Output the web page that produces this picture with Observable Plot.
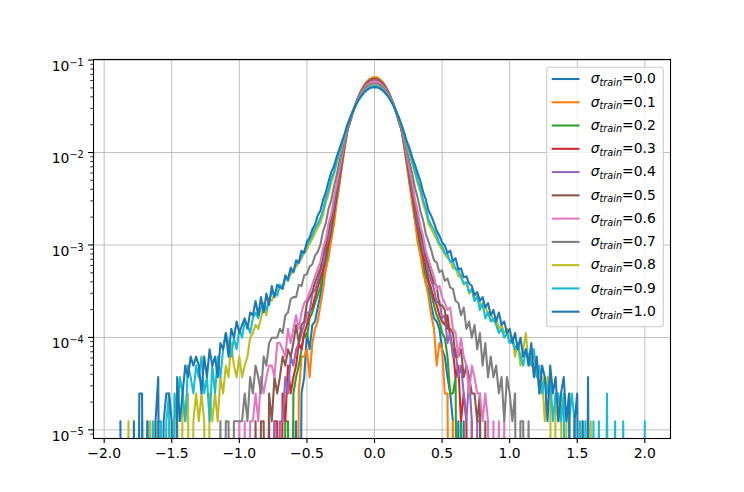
<!DOCTYPE html>
<html>
<head>
<meta charset="utf-8">
<script src="https://cdn.jsdelivr.net/npm/d3@7"></script>
<script src="https://cdn.jsdelivr.net/npm/@observablehq/plot@0.6"></script>
<style>
html, body { margin: 0; padding: 0; background: #fff; }
#chart { width: 744px; height: 492px; }
</style>
</head>
<body>
<div id="chart"></div>
<script>
// Histogram bin width and per-count probability (1 count = 1.24e-5)
const step = 0.02;
const unit = 1.24e-5;

const labels = ["0.0","0.1","0.2","0.3","0.4","0.5","0.6","0.7","0.8","0.9","1.0"];
const colors = ["#1f77b4","#ff7f0e","#2ca02c","#d62728","#9467bd","#8c564b","#e377c2","#7f7f7f","#bcbd22","#17becf","#1f77b4"];
// first bin x of each series
const starts = [-0.60, -0.62, -0.68, -0.80, -0.76, -0.90, -1.02, -1.16, -1.84, -1.74, -1.88];

// counts per bin (x = start + i*step)
const s00 = [
  0,1,0,2,3,9,6,11,12,17,
  23,36,44,70,93,153,236,383,596,950,
  1405,1760,2190,2700,3195,3728,4188,4620,4920,5140,
  5198,5150,4935,4605,4200,3712,3210,2685,2204,1748,
  1418,936,610,371,245,147,99,64,48,31,
  26,18,13,12,10,6,5,3,2,1,
  0,1,0,1,0];
const s01 = [
  0,1,0,2,5,5,6,3,7,10,
  12,18,27,45,58,92,134,231,352,590,
  915,1410,1738,2205,2690,3230,3735,4240,4650,4990,
  5180,5262,5240,5005,4680,4225,3760,3205,2710,2180,
  1755,1390,935,572,365,220,146,84,63,40,
  31,22,14,10,4,7,6,2,2,0,
  1,0];
const s02 = [
  0,1,1,0,2,3,4,6,9,8,
  13,15,19,23,28,44,55,83,110,178,
  264,418,632,982,1425,1780,2198,2690,3165,3675,
  4112,4525,4810,5015,5070,5020,4808,4530,4115,3660,
  3180,2672,2215,1765,1438,968,645,405,276,169,
  118,77,59,39,31,24,18,14,12,9,
  8,5,2,2,3,0,1,0];
const s03 = [
  0,1,0,1,1,0,2,1,4,2,
  3,4,7,6,9,11,15,17,22,28,
  36,43,66,85,128,181,291,425,664,985,
  1448,1775,2215,2670,3166,3635,4090,4465,4768,4942,
  5018,4960,4755,4480,4076,3650,3152,2684,2201,1788,
  1434,1000,651,437,280,190,120,91,60,48,
  33,27,21,18,14,12,11,14,8,6,
  3,4,1,2,1,0,1,0];
const s04 = [
  0,1,0,1,1,3,2,5,4,6,
  7,9,11,15,15,24,26,33,42,51,
  76,98,147,204,319,456,698,1012,1464,1788,
  2222,2661,3144,3595,4032,4390,4680,4846,4920,4862,
  4668,4404,4018,3610,3128,2677,2208,1802,1450,1027,
  684,470,307,214,138,105,70,56,39,33,
  27,19,20,13,14,7,9,5,6,3,
  4,2,1,3,1,0,1,1,0];
const s05 = [
  0,1,0,1,1,0,2,1,3,2,
  3,5,4,6,5,7,11,7,11,12,
  19,22,25,32,38,45,65,80,121,155,
  237,334,500,712,1053,1464,1815,2212,2668,3109,
  3573,3968,4340,4592,4777,4822,4785,4604,4326,3982,
  3559,3123,2654,2226,1801,1478,1038,727,486,346,
  226,164,112,87,59,48,38,31,29,18,
  18,16,10,10,9,5,5,6,3,4,
  3,2,2,1,2,0,1,0];
const s06 = [
  0,1,0,1,0,1,1,2,1,3,
  2,3,4,4,3,7,7,6,5,10,
  7,10,14,10,15,19,21,25,30,37,
  45,53,75,94,137,175,261,363,532,744,
  1079,1478,1827,2217,2662,3089,3538,3919,4277,4518,
  4697,4740,4702,4531,4263,3933,3524,3103,2648,2231,
  1813,1493,1064,758,518,375,250,184,128,100,
  69,56,45,37,27,29,22,19,16,17,
  10,9,5,8,5,4,2,4,3,2,
  2,1,2,1,0,1,0,1,0,1,
  0];
const s07 = [
  0,1,0,1,1,0,1,1,1,1,
  2,1,3,2,4,3,2,5,4,7,
  8,8,8,10,9,14,15,21,22,22,
  30,29,38,39,47,50,62,68,82,114,
  139,198,247,346,456,636,838,1156,1519,1866,
  2230,2643,3031,3442,3779,4103,4312,4474,4510,4480,
  4326,4088,3794,3427,3046,2628,2245,1851,1534,1140,
  855,620,471,333,259,187,148,106,87,71,
  55,52,41,43,33,35,28,27,20,19,
  14,17,10,12,8,11,6,9,4,7,
  3,5,3,4,2,3,1,3,2,1,
  2,0,1,1,0,1,0];
const s08 = [
  0,1,0,0,0,0,0,0,0,1,
  0,1,0,1,0,0,1,0,1,2,
  0,2,1,2,0,1,2,1,2,1,
  0,2,1,2,1,3,2,4,3,7,
  4,3,5,3,4,5,8,9,11,10,
  13,18,14,21,20,24,23,30,27,35,
  35,39,43,47,52,58,66,72,83,94,
  109,124,142,174,233,288,382,465,611,766,
  979,1235,1584,1894,2261,2606,2983,3317,3641,3895,
  4104,4216,4271,4240,4092,3909,3627,3331,2969,2620,
  2247,1908,1570,1249,965,780,598,477,370,299,
  223,182,136,121,105,93,80,72,64,58,
  55,45,46,37,38,30,32,24,27,20,
  23,19,17,18,14,15,12,13,10,11,
  9,10,7,8,5,7,4,6,9,4,
  5,3,4,2,3,1,3,2,0,2,
  1,2,0,1,2,0,1,0,0,1,
  0,0,1,0];
const s09 = [
  0,1,0,1,0,1,0,1,1,0,
  1,2,0,2,1,3,2,1,4,3,
  2,4,3,5,2,3,1,4,2,5,
  3,6,9,7,5,8,6,10,8,12,
  11,9,13,15,13,17,19,16,21,24,
  24,23,30,28,36,33,43,41,51,52,
  61,70,79,91,104,122,136,158,194,258,
  315,416,499,648,801,1009,1256,1595,1903,2264,
  2601,2969,3294,3609,3854,4057,4165,4218,4190,4046,
  3868,3595,3308,2955,2615,2250,1918,1580,1271,994,
  815,634,512,403,327,247,202,151,132,118,
  102,84,79,66,64,53,54,44,43,36,
  31,32,25,27,20,22,16,19,13,15,
  12,13,11,9,10,8,9,7,8,6,
  7,5,4,6,5,4,6,3,4,2,
  3,2,3,1,2,2,1,2,0,1,
  2,1,0,1,0,1,0,0,1,0,
  1,0,0,2,0,0,1,0,0,1,
  0,0,0,0,0,0,0,1];
const s10 = [
  1,0,0,0,0,1,0,2,2,0,
  1,0,0,1,3,0,1,2,2,1,
  0,3,1,2,4,3,5,4,5,4,
  2,5,3,6,4,5,3,7,6,9,
  5,10,8,12,9,11,13,10,15,14,
  20,14,22,15,24,18,29,22,30,28,
  27,38,34,46,41,55,52,70,66,88,
  97,119,134,168,190,250,300,392,495,572,
  725,878,1070,1300,1617,1922,2270,2590,2943,3248,
  3545,3776,3966,4065,4112,4085,3955,3790,3532,3262,
  2928,2605,2256,1937,1602,1315,1056,890,712,590,
  480,392,301,249,189,166,140,115,102,86,
  80,66,70,54,58,44,45,36,37,31,
  29,23,25,20,22,17,19,14,16,12,
  15,11,12,9,10,7,9,6,8,5,
  6,4,7,3,5,2,4,3,1,4,
  2,3,1,2,3,1,2,0,1,2,
  0,1,0,3,0];

const series = [s00,s01,s02,s03,s04,s05,s06,s07,s08,s09,s10];

const xTicks = [-2, -1.5, -1, -0.5, 0, 0.5, 1, 1.5, 2];
const yTicks = [1e-5, 1e-4, 1e-3, 1e-2, 1e-1];
const yMinor = [];
for (let e = -6; e <= -1; e++) for (let m = 2; m <= 9; m++) {
  const v = m * Math.pow(10, e);
  if (v > 8.07e-6 && v < 0.1014) yMinor.push(v);
}

// zero-count bins fall to the bottom (clipped), like a log axis with clipping
const rows = series.map((counts, j) =>
  counts.map((c, i) => ({
    x: +(starts[j] + i * step).toFixed(2),
    y: c > 0 ? c * unit : 1e-9
  }))
);

const gridStyle = {stroke: "#b0b0b0", strokeOpacity: 1, strokeWidth: 0.8};

const svg = Plot.plot({
  width: 744,
  height: 492,
  marginTop: 59,
  marginBottom: 54,
  marginLeft: 93,
  marginRight: 74,
  style: {fontFamily: "DejaVu Sans", fontSize: "13.9px", color: "black", background: "white", overflow: "visible"},
  x: {domain: [-2.079, 2.19], label: null},
  y: {type: "log", domain: [8.07e-6, 0.1014], label: null},
  marks: [
    Plot.gridX(xTicks, gridStyle),
    Plot.gridY(yTicks, gridStyle),
    ...rows.map((r, j) => Plot.line(r, {x: "x", y: "y", stroke: colors[j], strokeWidth: 2.08, clip: true, strokeLinejoin: "round"})),
    Plot.frame({stroke: "black", strokeWidth: 1.1}),
    Plot.axisX(xTicks, {tickSize: 4.9, tickPadding: 4.9, tickFormat: d3.format(".1f"), label: null, strokeWidth: 1.1}),
    Plot.axisY(yTicks, {tickSize: 4.9, tickPadding: 4.9, tickFormat: d => String(Math.round(Math.log10(d))).replace("-", "\u2212"), label: null, strokeWidth: 1.1}),
    Plot.axisY(yMinor, {tickSize: 2.8, tickFormat: () => "", label: null, strokeWidth: 0.8})
  ]
});

// superscript exponents on the log axis labels
d3.select(svg).selectAll('g[aria-label="y-axis tick label"] text').each(function() {
  const exp = this.textContent;
  if (!exp) return;
  const t = d3.select(this);
  t.text("").attr("dy", "0.46em");
  t.append("tspan").text("10");
  t.append("tspan").attr("dy", "-5.3").attr("font-size", "9.7px").text(exp);
});

// legend
const lg = d3.select(svg).append("g")
  .attr("font-family", "DejaVu Sans")
  .attr("text-anchor", "start");
lg.append("rect")
  .attr("x", 546.7).attr("y", 67.3).attr("width", 116.6).attr("height", 259.4)
  .attr("rx", 3).attr("fill", "white").attr("fill-opacity", 0.8)
  .attr("stroke", "#cccccc").attr("stroke-width", 1.1);
labels.forEach((lab, i) => {
  const cy = 79.0 + 23.27 * i;
  lg.append("line").attr("x1", 551.7).attr("x2", 579.5).attr("y1", cy).attr("y2", cy)
    .attr("stroke", colors[i]).attr("stroke-width", 2.08);
  const t = lg.append("text").attr("x", 590.7).attr("y", cy + 4.3)
    .attr("text-anchor", "start").attr("font-size", "13.9px").attr("fill", "black");
  t.append("tspan").attr("font-style", "italic").text("\u03c3");
  t.append("tspan").attr("font-style", "italic").attr("font-size", "9.7px").attr("dy", 2.6).text("train");
  t.append("tspan").attr("dy", -2.6).text("=" + lab);
});

document.getElementById("chart").appendChild(svg);
</script>
</body>
</html>
